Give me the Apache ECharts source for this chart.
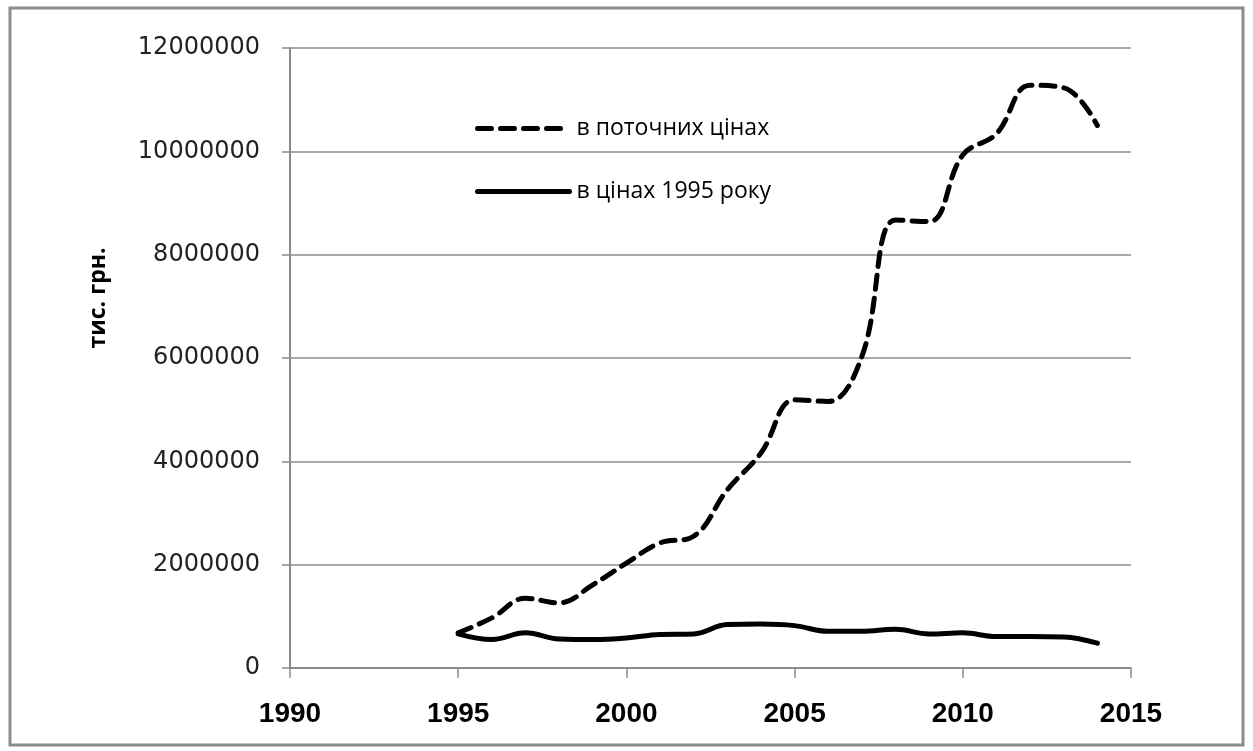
<!DOCTYPE html>
<html>
    <head>
        <meta charset="UTF-8">
        <script src="https://cdn.jsdelivr.net/npm/echarts@6/dist/echarts.min.js"></script>
        <style>
            body { margin: 0; background: #fff; }
        </style>
    </head>

    <body>
        <div id="main" style="width:1253px;height:751px"></div>
        <script type="text/javascript">
            // years and values (тис. грн.)
            var years = [1995, 1996, 1997, 1998, 1999, 2000, 2001, 2002, 2003, 2004,
                         2005, 2006, 2007, 2008, 2009, 2010, 2011, 2012, 2013, 2014];
            var currentPrices = [680000, 970000, 1350000, 1260000, 1610000, 2030000, 2420000, 2550000, 3450000, 4160000,
                                 5190000, 5160000, 6030000, 8670000, 8640000, 9930000, 10340000, 11280000, 11230000, 10500000];
            var prices1995 = [660000, 550000, 680000, 560000, 550000, 580000, 650000, 660000, 840000, 850000,
                              820000, 710000, 710000, 750000, 660000, 680000, 610000, 610000, 600000, 480000];
            var seriesNames = ['в поточних цінах', 'в цінах 1995 року'];
            var yAxisName = 'тис. грн.';

            function pairs(xs, ys) {
                return xs.map(function (x, i) { return [x, ys[i]]; });
            }

            var chartDom = document.getElementById('main');
            var myChart = echarts.init(chartDom);

            var option = {
                animation: false,
                backgroundColor: '#fff',
                grid: {
                    left: 290,
                    right: 122,
                    top: 48,
                    bottom: 83
                },
                graphic: [
                    {
                        type: 'rect',
                        shape: { x: 10, y: 8, width: 1233, height: 737 },
                        style: { fill: 'none', stroke: '#8c8c8c', lineWidth: 3 }
                    },
                    {
                        type: 'text',
                        x: 98,
                        y: 298,
                        rotation: Math.PI / 2,
                        style: {
                            text: yAxisName,
                            fontFamily: 'Open Sans',
                            fontWeight: 'bold',
                            fontSize: 23,
                            fill: '#000',
                            align: 'center',
                            verticalAlign: 'middle'
                        }
                    }
                ],
                legend: {
                    orient: 'vertical',
                    left: 470,
                    top: 112,
                    itemWidth: 92,
                    itemHeight: 24,
                    itemGap: 40,
                    data: seriesNames,
                    itemStyle: { opacity: 0 },
                    lineStyle: { width: 5, cap: 'round' },
                    textStyle: {
                        fontFamily: 'Open Sans',
                        fontSize: 23,
                        color: '#000',
                        padding: [0, 0, 0, 2]
                    }
                },
                xAxis: {
                    type: 'value',
                    min: 1990,
                    max: 2015,
                    interval: 5,
                    axisLine: { show: true, lineStyle: { color: '#8c8c8c', width: 2 } },
                    axisTick: { show: true, length: 10, lineStyle: { color: '#8c8c8c', width: 1.5 } },
                    splitLine: { show: false },
                    axisLabel: {
                        margin: 32,
                        formatter: function (v) { return String(v); },
                        fontFamily: 'Liberation Sans',
                        fontWeight: 'bold',
                        fontSize: 28,
                        color: '#000'
                    }
                },
                yAxis: {
                    type: 'value',
                    min: 0,
                    max: 12000000,
                    interval: 2000000,
                    axisLine: { show: true, lineStyle: { color: '#8c8c8c', width: 2 } },
                    axisTick: { show: true, length: 8, lineStyle: { color: '#8c8c8c', width: 1.5 } },
                    splitLine: { show: true, lineStyle: { color: '#8c8c8c', width: 1.5 } },
                    axisLabel: {
                        margin: 30,
                        formatter: function (v) { return String(v); },
                        fontFamily: 'DejaVu Sans',
                        fontSize: 24,
                        color: '#222'
                    }
                },
                series: [
                    {
                        name: seriesNames[0],
                        type: 'line',
                        smooth: 0.4,
                        showSymbol: false,
                        symbol: 'none',
                        data: pairs(years, currentPrices),
                        lineStyle: { color: '#000', width: 5, type: [14, 9], cap: 'round' },
                        itemStyle: { color: '#000' }
                    },
                    {
                        name: seriesNames[1],
                        type: 'line',
                        smooth: 0.4,
                        showSymbol: false,
                        symbol: 'none',
                        data: pairs(years, prices1995),
                        lineStyle: { color: '#000', width: 5, type: 'solid', cap: 'round' },
                        itemStyle: { color: '#000' }
                    }
                ]
            };

            option && myChart.setOption(option);
        </script>
    </body>
</html>
